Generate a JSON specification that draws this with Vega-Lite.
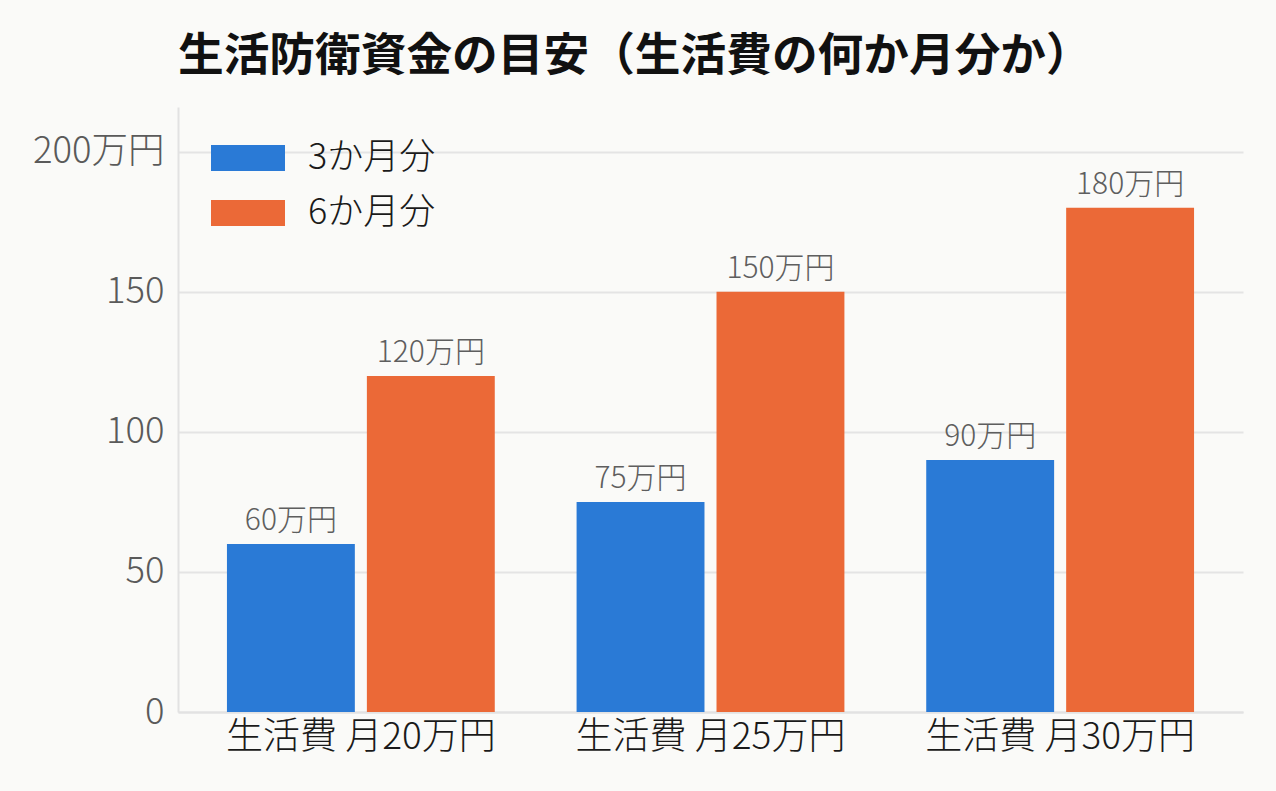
{
  "$schema": "https://vega.github.io/schema/vega-lite/v6.json",
  "background": "#fafaf8",
  "width": 1065,
  "height": 605,
  "autosize": {"type": "none"},
  "padding": {"left": 178, "top": 107, "right": 33, "bottom": 79},
  "title": {
    "text": "生活防衛資金の目安（生活費の何か月分か）",
    "anchor": "start",
    "frame": "group",
    "fontSize": 45.7,
    "fontWeight": "bold",
    "color": "#111111",
    "font": "Noto Sans CJK JP",
    "offset": 26
  },
  "data": {
    "values": [
      {"group": "生活費 月20万円", "period": "3か月分", "value": 60, "label": "60万円"},
      {"group": "生活費 月20万円", "period": "6か月分", "value": 120, "label": "120万円"},
      {"group": "生活費 月25万円", "period": "3か月分", "value": 75, "label": "75万円"},
      {"group": "生活費 月25万円", "period": "6か月分", "value": 150, "label": "150万円"},
      {"group": "生活費 月30万円", "period": "3か月分", "value": 90, "label": "90万円"},
      {"group": "生活費 月30万円", "period": "6か月分", "value": 180, "label": "180万円"}
    ]
  },
  "encoding": {
    "x": {
      "field": "group",
      "type": "nominal",
      "sort": null,
      "title": null,
      "scale": {"paddingInner": 0.234, "paddingOuter": 0.14},
      "axis": {
        "labelAngle": 0,
        "labelFontSize": 37,
        "labelFontWeight": 300,
        "labelColor": "#1a1a1a",
        "labelPadding": 7,
        "labelLimit": 0,
        "ticks": false,
        "domainColor": "#e2e2e2",
        "domainWidth": 2
      }
    },
    "xOffset": {
      "field": "period",
      "type": "nominal",
      "sort": null,
      "scale": {"paddingInner": 0.086, "paddingOuter": 0}
    },
    "y": {
      "field": "value",
      "type": "quantitative",
      "title": null,
      "scale": {"domain": [0, 216], "nice": false},
      "axis": {
        "values": [0, 50, 100, 150, 200],
        "labelExpr": "datum.value == 200 ? '200万円' : datum.label",
        "labelFontSize": 36.5,
        "labelFontWeight": 300,
        "labelColor": "#5a5a5a",
        "labelPadding": 14,
        "ticks": false,
        "gridColor": "#e4e4e4",
        "gridWidth": 2,
        "domainColor": "#e2e2e2",
        "domainWidth": 2
      }
    }
  },
  "layer": [
    {
      "mark": {"type": "bar"},
      "encoding": {
        "color": {
          "field": "period",
          "type": "nominal",
          "sort": null,
          "title": null,
          "scale": {"domain": ["3か月分", "6か月分"], "range": ["#2a7ad6", "#eb6937"]},
          "legend": {
            "orient": "none",
            "legendX": 33,
            "legendY": 14,
            "symbolType": "M-1,-0.351H1V0.351H-1Z",
            "symbolSize": 5476,
            "symbolStrokeWidth": 0,
            "labelFontSize": 36,
            "labelFontWeight": 300,
            "labelColor": "#1a1a1a",
            "labelOffset": 23,
            "rowPadding": -4
          }
        }
      }
    },
    {
      "mark": {"type": "text", "baseline": "bottom", "dy": -8, "fontSize": 30, "fontWeight": 300, "color": "#5e5e5e"},
      "encoding": {
        "text": {"field": "label", "type": "nominal"}
      }
    }
  ],
  "config": {
    "font": "Noto Sans CJK JP",
    "view": {"stroke": null}
  }
}
